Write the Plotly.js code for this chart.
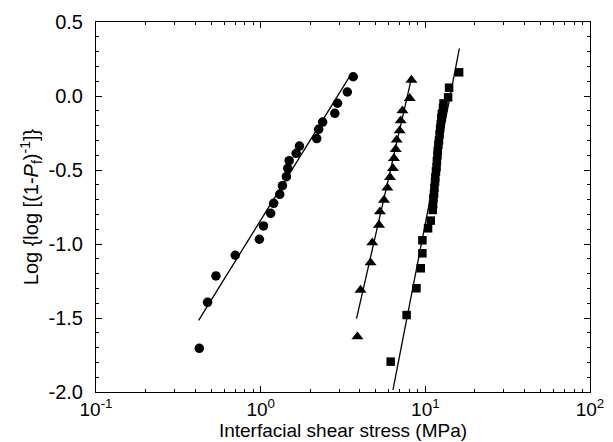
<!DOCTYPE html>
<html>
<head>
<meta charset="utf-8">
<script src="https://cdn.plot.ly/plotly-3.0.1.min.js"></script>
<style>html,body{margin:0;padding:0;background:#fff;}#chart{width:613px;height:442px;}</style>
</head>
<body>
<div id="chart"></div>
<script>
// Series 1: circles
const circX = [0.424, 0.476, 0.535, 0.701, 0.982, 1.04, 1.15, 1.20, 1.305, 1.356, 1.433, 1.46, 1.49, 1.643, 1.72, 2.19, 2.25, 2.38, 2.82, 2.93, 3.36, 3.65];
const circY = [-1.705, -1.394, -1.216, -1.076, -0.968, -0.878, -0.793, -0.725, -0.664, -0.606, -0.545, -0.489, -0.437, -0.387, -0.338, -0.288, -0.225, -0.176, -0.117, -0.049, 0.027, 0.130];
// Series 2: triangles
const triX = [3.87, 4.04, 4.65, 4.76, 5.23, 5.30, 5.61, 5.88, 6.10, 6.36, 6.45, 6.61, 6.70, 6.98, 7.08, 7.26, 8.04, 8.23];
const triY = [-1.626, -1.311, -1.126, -0.991, -0.872, -0.782, -0.703, -0.620, -0.549, -0.489, -0.421, -0.360, -0.297, -0.234, -0.167, -0.099, -0.016, 0.108];
// Series 3: squares
const sqX = [6.16, 7.70, 8.83, 9.38, 9.60, 9.60, 10.39, 10.79, 11.10, 11.15, 11.2, 11.3, 11.35, 11.45, 11.5, 11.6, 11.7, 11.75, 11.85, 11.9, 12.0, 12.1, 12.2, 12.3, 12.4, 12.5, 12.6, 12.8, 12.9, 13.75, 13.94, 16.04];
const sqY = [-1.795, -1.480, -1.299, -1.164, -1.063, -0.975, -0.894, -0.842, -0.77, -0.73, -0.69, -0.66, -0.62, -0.58, -0.55, -0.51, -0.48, -0.44, -0.40, -0.37, -0.33, -0.30, -0.26, -0.22, -0.19, -0.15, -0.12, -0.08, -0.05, -0.009, 0.056, 0.160];
// Fitted lines: y = intercept + slope*log10(x), drawn between xStart and xEnd
const fitSlope = [1.797, 4.87, 5.72];
const fitIntercept = [-0.839, -4.339, -6.581];
const fitXStart = [0.42, 3.82, 6.36];
const fitXEnd = [3.55, 8.27, 16.1];
// Tick labels
const xTickVals = [0.1, 1, 10, 100];
const xTickText = ['10<sup>-1</sup>', '10<sup>0</sup>', '10<sup>1</sup>', '10<sup>2</sup>'];
const yTickVals = [-2.0, -1.5, -1.0, -0.5, 0.0, 0.5];
const yTickText = ['-2.0', '-1.5', '-1.0', '-0.5', '0.0', '0.5'];

const traces = [];
for (let i = 0; i < 3; i++) {
  const xs = [fitXStart[i], fitXEnd[i]];
  traces.push({
    x: xs, y: xs.map(v => fitIntercept[i] + fitSlope[i] * Math.log10(v)),
    mode: 'lines', line: {color: '#000', width: 1.3}, hoverinfo: 'skip', showlegend: false
  });
}
traces.push({x: circX, y: circY, mode: 'markers', marker: {symbol: 'circle', size: 9.5, color: '#000'}, showlegend: false});
traces.push({x: triX, y: triY, mode: 'markers', marker: {symbol: 'triangle-up', size: 10.5, color: '#000'}, showlegend: false});
traces.push({x: sqX, y: sqY, mode: 'markers', marker: {symbol: 'square', size: 8.5, color: '#000'}, showlegend: false});

const minorX = [];
for (let d = 0.1; d < 100; d *= 10) for (let k = 2; k <= 9; k++) minorX.push(+(d * k).toPrecision(3));

const font = {family: 'Liberation Sans, Arial, sans-serif', color: '#000', size: 19};
const layout = {
  width: 613, height: 442,
  margin: {l: 96, r: 23, t: 22, b: 50},
  paper_bgcolor: '#fff', plot_bgcolor: '#fff',
  font: font,
  showlegend: false,
  xaxis: {
    type: 'log', range: [-1, 2],
    tickmode: 'array', tickvals: xTickVals, ticktext: xTickText,
    ticks: 'inside', ticklen: 6, tickwidth: 1, tickcolor: '#000',
    minor: {tickmode: 'array', tickvals: minorX, ticks: 'inside', ticklen: 3, tickcolor: '#000', showgrid: false},
    showline: true, linecolor: '#000', linewidth: 1, mirror: 'ticks',
    showgrid: false, zeroline: false,
    tickfont: {size: 19},
    ticklabelstandoff: 0,
    title: {text: 'Interfacial shear stress (MPa)', font: {size: 19}, standoff: 1}
  },
  yaxis: {
    range: [-2.0, 0.5],
    tickmode: 'array', tickvals: yTickVals, ticktext: yTickText,
    ticks: 'inside', ticklen: 6, tickwidth: 1, tickcolor: '#000',
    minor: {dtick: 0.1, ticks: 'inside', ticklen: 3, tickcolor: '#000', showgrid: false},
    showline: true, linecolor: '#000', linewidth: 1, mirror: 'ticks',
    showgrid: false, zeroline: false,
    tickfont: {size: 20},
    ticklabelstandoff: 8,
    title: {text: 'Log {log [(1-<i>P</i><sub>f</sub>)<sup>-1</sup>]}', font: {size: 20}, standoff: 4}
  }
};
Plotly.newPlot('chart', traces, layout, {staticPlot: true, displayModeBar: false});
</script>
</body>
</html>
